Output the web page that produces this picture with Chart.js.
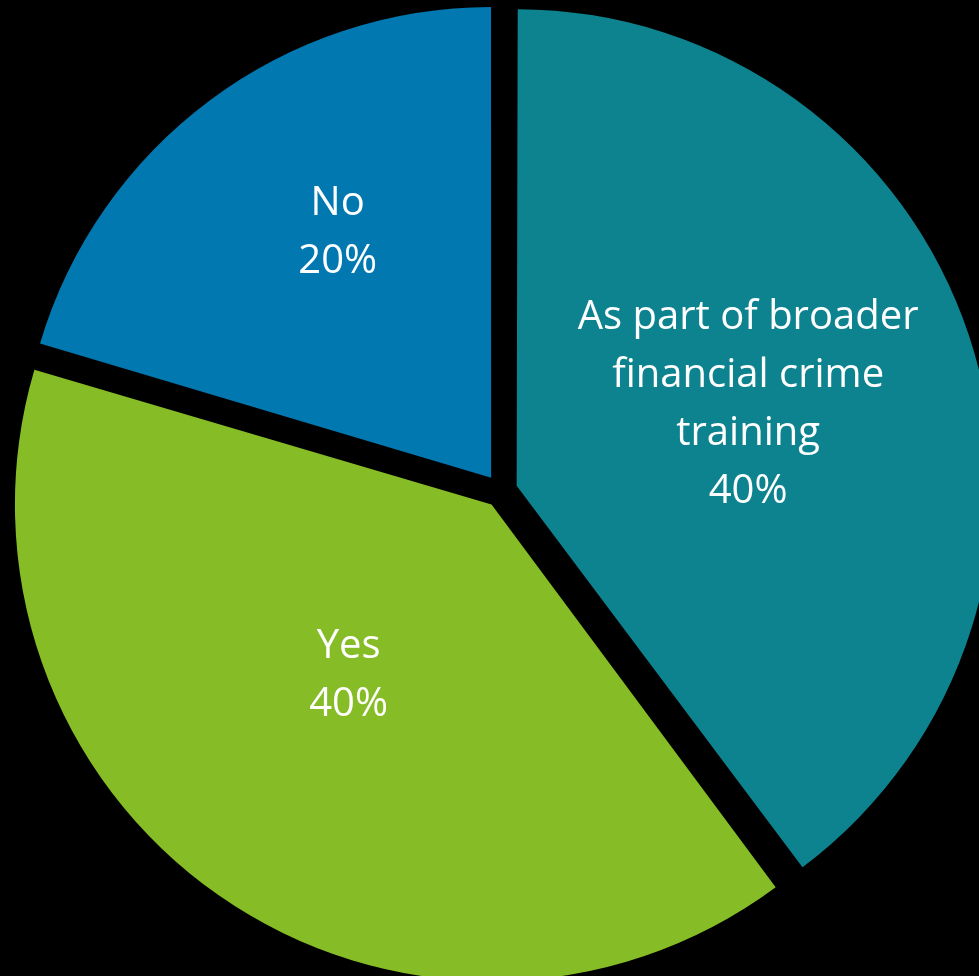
<!DOCTYPE html>
<html lang="en">
<head>
    <meta charset="UTF-8">
    <title>Financial crime training</title>
    <script src="https://cdn.jsdelivr.net/npm/chart.js"></script>
    <style>
        html, body { margin: 0; padding: 0; background: #000; }
        #wrap { width: 979px; height: 976px; }
    </style>
</head>
<body>
    <div id="wrap"><canvas id="pie"></canvas></div>

    <script>
        // chart data (slice sizes, labels show rounded %)
        const categories = [
            ['As part of broader', 'financial crime', 'training'],
            ['Yes'],
            ['No']
        ];
        const shares = [39.8, 39.8, 20.4];
        const sliceColors = ['#0E8390', '#86BC25', '#0278B0'];

        // label placement: fraction of radius and angle nudge (degrees)
        const labelDepth = [0.524, 0.47, 0.621];
        const labelNudge = [-1.6, 5.4, 5.0];
        const explode = 66;

        const sliceLabels = {
            id: 'sliceLabels',
            afterDatasetsDraw(chart) {
                const ctx = chart.ctx;
                const meta = chart.getDatasetMeta(0);
                ctx.save();
                ctx.fillStyle = '#ffffff';
                ctx.font = '40px "Open Sans", sans-serif';
                ctx.textAlign = 'center';
                ctx.textBaseline = 'alphabetic';
                const capHalf = 40 * 0.714 / 2;
                meta.data.forEach((arc, i) => {
                    const p = arc.getProps(['x', 'y', 'startAngle', 'endAngle', 'outerRadius']);
                    const mid = (p.startAngle + p.endAngle) / 2;
                    const shift = explode / 4;
                    const ax = p.x + Math.cos(mid) * shift;
                    const ay = p.y + Math.sin(mid) * shift;
                    const a = mid + labelNudge[i] * Math.PI / 180;
                    const r = p.outerRadius * labelDepth[i];
                    const cx = ax + Math.cos(a) * r;
                    const cy = ay + Math.sin(a) * r;
                    const lines = categories[i].concat([Math.round(shares[i]) + '%']);
                    const lh = 58.3;
                    const top = cy - (lines.length - 1) * lh / 2;
                    lines.forEach((t, k) => ctx.fillText(t, cx, top + k * lh + capHalf));
                });
                ctx.restore();
            }
        };

        new Chart(document.getElementById('pie'), {
            type: 'pie',
            data: {
                labels: categories,
                datasets: [{
                    data: shares,
                    backgroundColor: sliceColors,
                    borderWidth: 0,
                    offset: explode,
                    hoverOffset: explode,
                    clip: false
                }]
            },
            options: {
                responsive: true,
                maintainAspectRatio: false,
                animation: false,
                radius: 470,
                layout: { padding: { left: 23, top: 6, right: 0, bottom: 0 } },
                plugins: {
                    legend: { display: false },
                    tooltip: { enabled: false }
                }
            },
            plugins: [sliceLabels]
        });
    </script>
</body>
</html>
